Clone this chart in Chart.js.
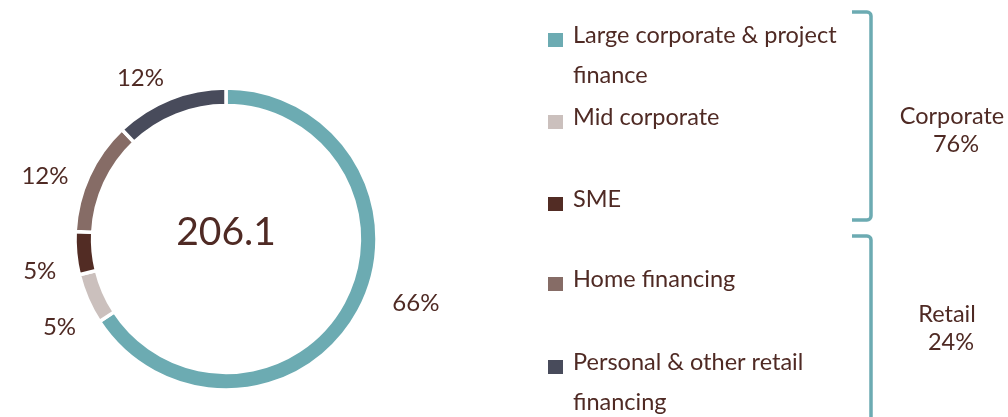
<!DOCTYPE html>
<html><head><meta charset="utf-8">
<script src="https://cdn.jsdelivr.net/npm/chart.js@4/dist/chart.umd.min.js"></script>
<style>html,body{margin:0;padding:0;background:#fff;overflow:hidden}canvas{display:block}</style>
</head><body>
<canvas id="c" width="1008" height="417"></canvas>
<script>
// ---- data ----
const categories = [["Large corporate & project", "finance"], ["Mid corporate"], ["SME"], ["Home financing"], ["Personal & other retail", "financing"]];
const shares = [65.8, 5.4, 4.6, 12.1, 12.1];
const shareLabels = ["66%", "5%", "5%", "12%", "12%"];
const colors = ["#6cabb2", "#cbc0bd", "#522c24", "#866c66", "#484b5b"];
const totalLabel = "206.1";
const groupNames = ["Corporate", "Retail"];
const groupShares = ["76%", "24%"];

// ---- layout / style ----
const TEXT = "#4f2a24";
const FONT = "Lato, 'Open Sans', sans-serif";
const legendBaselines = [43, 125, 207, 287, 370];
const labelNudge = [[5, -12], [-1, -5], [0, -5], [-1, -2], [3, 7]];
const brackets = [{top: 12, bottom: 220, label: {x: 952, y: 124}}, {top: 236, bottom: 470, label: {x: 947, y: 322}}];

const overlay = {
  id: 'overlay',
  afterDraw(chart) {
    const ctx = chart.ctx;
    const meta = chart.getDatasetMeta(0);
    ctx.save();
    ctx.fillStyle = TEXT;
    // center total
    const a0 = meta.data[0];
    ctx.font = "39px " + FONT;
    ctx.textAlign = "center";
    ctx.textBaseline = "alphabetic";
    ctx.fillText(totalLabel, a0.x, a0.y + 6);
    // slice labels
    ctx.font = "24px " + FONT;
    ctx.textBaseline = "middle";
    meta.data.forEach((arc, i) => {
      const p = arc.getProps(['startAngle', 'endAngle', 'x', 'y'], true);
      const mid = (p.startAngle + p.endAngle) / 2 - 6 * Math.PI / 180;
      const r = i === 0 ? 200 : 190;
      ctx.fillText(shareLabels[i], p.x + Math.cos(mid) * r + labelNudge[i][0], p.y + Math.sin(mid) * r + labelNudge[i][1]);
    });
    // legend
    ctx.font = "23.5px " + FONT;
    ctx.textAlign = "left";
    ctx.textBaseline = "alphabetic";
    categories.forEach((lines, i) => {
      const b = legendBaselines[i];
      ctx.fillStyle = colors[i];
      ctx.fillRect(548, b - 10, 15, 14);
      ctx.fillStyle = TEXT;
      lines.forEach((t, j) => ctx.fillText(t, 573, b + j * 40));
    });
    // brackets
    ctx.strokeStyle = colors[0];
    ctx.lineWidth = 3.5;
    ctx.lineJoin = "round";
    ctx.lineCap = "butt";
    brackets.forEach((br, k) => {
      ctx.beginPath();
      ctx.moveTo(852, br.top);
      ctx.arcTo(871, br.top, 871, br.top + 20, 4);
      ctx.arcTo(871, br.bottom, 852, br.bottom, 4);
      ctx.lineTo(852, br.bottom);
      ctx.stroke();
      ctx.textAlign = "center";
      ctx.fillStyle = TEXT;
      ctx.fillText(groupNames[k], br.label.x, br.label.y);
      ctx.fillText(groupShares[k], br.label.x + 4, br.label.y + 28);
    });
    ctx.restore();
  }
};

new Chart(document.getElementById('c'), {
  type: 'doughnut',
  data: {
    labels: categories.map(l => l.join(' ')),
    datasets: [{
      data: shares,
      backgroundColor: colors,
      borderColor: '#ffffff',
      borderWidth: 3.5,
      hoverOffset: 0
    }]
  },
  options: {
    responsive: false,
    animation: false,
    radius: 151,
    cutout: 131,
    layout: {padding: {left: 76, right: 632, top: 89, bottom: 28}},
    plugins: {legend: {display: false}, tooltip: {enabled: false}}
  },
  plugins: [overlay]
});
</script>
</body></html>
